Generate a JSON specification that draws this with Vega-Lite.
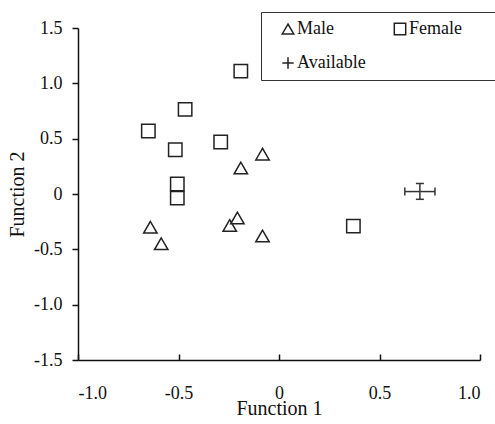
{
  "$schema": "https://vega.github.io/schema/vega-lite/v6.json",
  "width": 402,
  "height": 332,
  "autosize": "none",
  "padding": {"left": 78, "top": 28, "right": 15, "bottom": 64},
  "background": "white",
  "config": {
    "font": "Liberation Serif",
    "view": {"stroke": null},
    "axis": {
      "grid": false,
      "domainColor": "#111",
      "domainWidth": 1.5,
      "tickColor": "#111",
      "tickWidth": 1.5,
      "labelColor": "#111",
      "titleColor": "#111",
      "labelFontSize": 18,
      "titleFontSize": 20,
      "titleFontWeight": "normal",
      "labelFont": "Liberation Serif",
      "titleFont": "Liberation Serif"
    },
    "legend": {"labelFont": "Liberation Serif", "titleFont": "Liberation Serif"}
  },
  "datasets": {
    "pts": [
      {"group": "Female", "f1": -0.65, "f2": 0.57},
      {"group": "Female", "f1": -0.467, "f2": 0.765},
      {"group": "Female", "f1": -0.516, "f2": 0.4},
      {"group": "Female", "f1": -0.506, "f2": 0.09},
      {"group": "Female", "f1": -0.506, "f2": -0.037},
      {"group": "Female", "f1": -0.29, "f2": 0.47},
      {"group": "Female", "f1": -0.19, "f2": 1.11},
      {"group": "Female", "f1": 0.37, "f2": -0.29},
      {"group": "Male", "f1": -0.64, "f2": -0.3},
      {"group": "Male", "f1": -0.586, "f2": -0.45},
      {"group": "Male", "f1": -0.245, "f2": -0.285},
      {"group": "Male", "f1": -0.207, "f2": -0.217},
      {"group": "Male", "f1": -0.19, "f2": 0.235},
      {"group": "Male", "f1": -0.082, "f2": 0.36},
      {"group": "Male", "f1": -0.082, "f2": -0.38}
    ],
    "avail": [
      {"f1": 0.701, "f2": 0.022, "f1lo": 0.626, "f1hi": 0.776, "f2lo": -0.048, "f2hi": 0.095}
    ]
  },
  "layer": [
    {
      "data": {"name": "pts"},
      "mark": {"type": "point", "filled": false, "color": "#222", "strokeWidth": 1.5, "size": 180, "opacity": 1},
      "encoding": {
        "x": {
          "field": "f1", "type": "quantitative",
          "scale": {"domain": [-1, 1], "nice": false, "zero": false},
          "axis": {
            "title": "Function 1",
            "values": [-1, -0.5, 0, 0.5, 1],
            "labelExpr": "datum.value == 0 ? '0' : (datum.value < 0 ? '-' : '') + format(abs(datum.value), '.1f')",
            "tickSize": -6,
            "labelPadding": 30,
            "titlePadding": -4
          }
        },
        "y": {
          "field": "f2", "type": "quantitative",
          "scale": {"domain": [-1.5, 1.5], "nice": false, "zero": false},
          "axis": {
            "title": "Function 2",
            "values": [-1.5, -1, -0.5, 0, 0.5, 1, 1.5],
            "labelExpr": "datum.value == 0 ? '0' : (datum.value < 0 ? '-' : '') + format(abs(datum.value), '.1f')",
            "tickSize": 6,
            "labelPadding": 10,
            "titlePadding": 6
          }
        },
        "shape": {
          "field": "group", "type": "nominal",
          "scale": {"domain": ["Male", "Female", "Available"], "range": ["triangle-up", "square", "M-1,0H1M0,-1V1"]},
          "legend": {
            "title": " ",
            "titleOrient": "right",
            "titleFontSize": 1,
            "titlePadding": 28,
            "orient": "none",
            "legendX": 183,
            "legendY": -16,
            "columns": 2,
            "gridAlign": "each",
            "direction": "horizontal",
            "strokeColor": "#333",
            "fillColor": "white",
            "padding": 8,
            "rowPadding": 16,
            "columnPadding": 15,
            "labelFontSize": 18,
            "labelFont": "Liberation Serif",
            "labelColor": "#111",
            "labelOffset": 0,
            "symbolOffset": 10,
            "symbolSize": 130,
            "symbolStrokeColor": "#222",
            "symbolFillColor": "transparent",
            "symbolStrokeWidth": 1.5,
            "symbolOpacity": 1
          }
        }
      }
    },
    {
      "data": {"name": "avail"},
      "mark": {"type": "rule", "color": "#333", "strokeWidth": 1.5},
      "encoding": {
        "x": {"field": "f1lo", "type": "quantitative"},
        "x2": {"field": "f1hi"},
        "y": {"field": "f2", "type": "quantitative"}
      }
    },
    {
      "data": {"name": "avail"},
      "mark": {"type": "rule", "color": "#333", "strokeWidth": 1.5},
      "encoding": {
        "x": {"field": "f1", "type": "quantitative"},
        "y": {"field": "f2lo", "type": "quantitative"},
        "y2": {"field": "f2hi"}
      }
    },
    {
      "data": {"name": "avail"},
      "mark": {"type": "tick", "orient": "vertical", "color": "#333", "thickness": 1.5, "size": 8, "opacity": 1},
      "encoding": {
        "x": {"field": "f1lo", "type": "quantitative"},
        "y": {"field": "f2", "type": "quantitative"}
      }
    },
    {
      "data": {"name": "avail"},
      "mark": {"type": "tick", "orient": "vertical", "color": "#333", "thickness": 1.5, "size": 8, "opacity": 1},
      "encoding": {
        "x": {"field": "f1hi", "type": "quantitative"},
        "y": {"field": "f2", "type": "quantitative"}
      }
    },
    {
      "data": {"name": "avail"},
      "mark": {"type": "tick", "orient": "horizontal", "color": "#333", "thickness": 1.5, "size": 8, "opacity": 1},
      "encoding": {
        "x": {"field": "f1", "type": "quantitative"},
        "y": {"field": "f2lo", "type": "quantitative"}
      }
    },
    {
      "data": {"name": "avail"},
      "mark": {"type": "tick", "orient": "horizontal", "color": "#333", "thickness": 1.5, "size": 8, "opacity": 1},
      "encoding": {
        "x": {"field": "f1", "type": "quantitative"},
        "y": {"field": "f2hi", "type": "quantitative"}
      }
    }
  ]
}
